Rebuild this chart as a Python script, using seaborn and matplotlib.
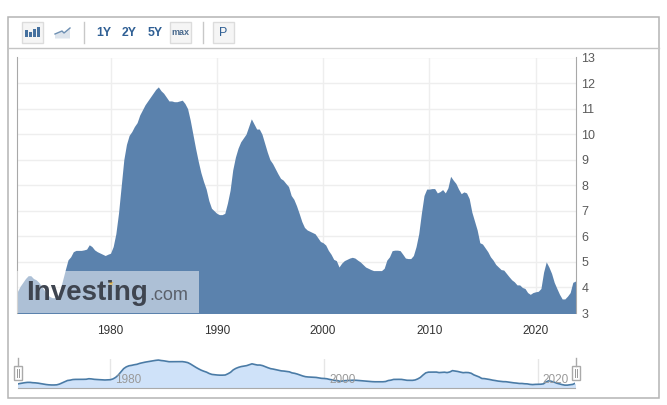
import pandas as pd
import matplotlib.pyplot as plt
import seaborn as sns
from matplotlib.patches import Rectangle, Polygon

plt.rcParams['font.family'] = ['Liberation Sans', 'DejaVu Sans']

# Quarterly values, first quarter of 1971 onwards
rate_values = [
    3.8, 3.85, 4.05, 4.2,
    4.35, 4.46, 4.46, 4.35,
    4.3, 4.2, 4.05, 3.9,
    3.75, 3.65, 3.6, 3.6,
    3.65, 3.9, 4.3, 4.7,
    5.08, 5.2, 5.4, 5.45,
    5.45, 5.45, 5.47, 5.5,
    5.67, 5.6, 5.47, 5.4,
    5.35, 5.3, 5.25, 5.3,
    5.34, 5.6, 6.1, 6.9,
    7.95, 9.0, 9.6, 9.95,
    10.1, 10.3, 10.45, 10.75,
    10.95, 11.15, 11.3, 11.45,
    11.6, 11.75, 11.85, 11.7,
    11.6, 11.45, 11.3, 11.3,
    11.27, 11.27, 11.3, 11.33,
    11.2, 11.0, 10.55, 10.0,
    9.45, 8.95, 8.5, 8.15,
    7.85, 7.4, 7.1, 7.0,
    6.9, 6.85, 6.85, 6.9,
    7.3, 7.8, 8.6, 9.1,
    9.45, 9.7, 9.85, 10.0,
    10.3, 10.6, 10.4, 10.2,
    10.2, 10.0, 9.65, 9.3,
    9.0, 8.85, 8.65, 8.45,
    8.27, 8.2, 8.07, 7.95,
    7.6, 7.45, 7.2, 6.9,
    6.58, 6.35, 6.25, 6.2,
    6.15, 6.1, 5.95, 5.8,
    5.75, 5.66, 5.45, 5.3,
    5.1, 5.05, 4.8, 4.95,
    5.05, 5.1, 5.15, 5.18,
    5.15, 5.07, 5.0, 4.9,
    4.8, 4.75, 4.7, 4.66,
    4.66, 4.66, 4.66, 4.75,
    5.07, 5.2, 5.44, 5.46,
    5.46, 5.44, 5.3, 5.15,
    5.13, 5.13, 5.25, 5.6,
    6.1, 6.9, 7.6, 7.85,
    7.85, 7.87, 7.87, 7.7,
    7.75, 7.83, 7.7, 7.9,
    8.35, 8.2, 8.07, 7.85,
    7.67, 7.74, 7.7, 7.48,
    6.95, 6.6, 6.25, 5.75,
    5.7, 5.55, 5.4, 5.2,
    5.07, 4.9, 4.8, 4.7,
    4.68, 4.55, 4.42, 4.3,
    4.22, 4.1, 4.1, 4.0,
    3.96, 3.8, 3.73, 3.8,
    3.83, 3.85, 3.96, 4.6,
    5.0, 4.8, 4.55, 4.2,
    3.96, 3.73, 3.55, 3.55,
    3.66, 3.8, 4.2, 4.25,
    4.3,
]
year_ticks = [1980, 1990, 2000, 2010, 2020]
rate_ticks = [3, 4, 5, 6, 7, 8, 9, 10, 11, 12, 13]
navigator_ticks = [1980, 2000, 2020]
range_buttons = ['1Y', '2Y', '5Y']

WIDTH, HEIGHT = 667, 405


# Axes rectangle from pixel box
def pixel_axes(left, top, right, bottom, **kwargs):
    return plt.axes([left / WIDTH, 1 - bottom / HEIGHT, (right - left) / WIDTH, (bottom - top) / HEIGHT], **kwargs)


# Prepare the series
def build_frame():
    df = pd.DataFrame({'Rate': rate_values})
    df['Year'] = 1971 + df.index * 0.25
    return df


# Plot main area chart
def plot_main(df):
    pixel_axes(17, 57.5, 576, 313)
    edges = list(df['Year'] - 0.125) + [df['Year'].iloc[-1] + 0.125]  # bin centres fall on the read dates
    sns.histplot(data=df, x='Year', weights='Rate', bins=edges, element='poly', color='#5b82ad', alpha=1, linewidth=0)
    plt.xlim(1971.2, 2023.8)
    plt.ylim(3, 13)
    plt.xticks(year_ticks, [str(y) for y in year_ticks], fontsize=8.5, color='#333333')
    plt.yticks(rate_ticks, [str(r) for r in rate_ticks], fontsize=9, color='#5a5a5a')
    plt.gca().yaxis.tick_right()
    plt.tick_params(length=0)
    plt.tick_params(axis='x', pad=9)
    plt.tick_params(axis='y', pad=4)
    plt.xlabel("")
    plt.ylabel("")
    plt.grid(color='#eeeeee', linewidth=1)
    plt.gca().set_axisbelow(True)
    for side, spine in plt.gca().spines.items():
        spine.set_visible(side in ('left', 'right'))
        spine.set_color('#a8a8a8')


# Plot navigator strip under the chart
def plot_navigator(df):
    pixel_axes(18, 359, 575, 388)
    plt.fill_between(df['Year'], df['Rate'], 2.6, color='#cfe2f9', linewidth=0)
    sns.lineplot(data=df, x='Year', y='Rate', color='#4a7ba6', linewidth=1.2)
    plt.xlim(1971.37, 2023.46)
    plt.ylim(2.6, 12.2)
    plt.xticks(navigator_ticks, [])
    plt.yticks([])
    plt.tick_params(length=0)
    plt.xlabel("")
    plt.ylabel("")
    plt.grid(axis='x', color='#e6e6e6', linewidth=1)
    plt.gca().set_axisbelow(True)
    for year in navigator_ticks:
        plt.text(year + 0.45, 5.2, str(year), fontsize=8.5, color='#999999', ha='left', va='center')
    for side, spine in plt.gca().spines.items():
        spine.set_visible(side == 'bottom')
        spine.set_color('#aaaaaa')


# Button box with soft border
def button_box(x0, x1):
    plt.gca().add_patch(Rectangle((x0, 22), x1 - x0, 21, facecolor='#f5f5f5', edgecolor='#dcdcdc', linewidth=1))


# Toolbar, outer frame, watermark and navigator handles in pixel coordinates
def draw_overlay():
    pixel_axes(0, 0, WIDTH, HEIGHT, facecolor='none')
    plt.xlim(0, WIDTH)
    plt.ylim(HEIGHT, 0)
    plt.axis('off')
    ax = plt.gca()

    ax.add_patch(Rectangle((7.5, 16.5), 651, 381, facecolor='none', edgecolor='#b4b4b4', linewidth=1.1))
    plt.plot([7.5, 658.5], [47.5, 47.5], color='#c4c4c4', linewidth=1)

    button_box(22, 43)
    for x0, top in [(25, 30), (29, 32), (33, 29), (37, 27)]:
        ax.add_patch(Rectangle((x0, top), 3, 36.5 - top, color='#46719f', linewidth=0))
    ax.add_patch(Polygon([(55, 34), (62, 31), (64, 33), (70, 28), (70, 38.5), (55, 38.5)], facecolor='#dde4ec', edgecolor='none'))
    plt.plot([55, 62, 64, 70], [34, 31, 33, 28], color='#6d8fb3', linewidth=1)

    plt.plot([83.5, 83.5], [22, 43], color='#c8c8c8', linewidth=1)
    for label, x in zip(range_buttons, [104, 129.5, 155]):
        plt.text(x, 32.5, label, fontsize=8.8, fontweight='bold', color='#2f5f94', ha='center', va='center')
    button_box(170, 191)
    plt.text(180.5, 32.5, 'max', fontsize=6.5, fontweight='bold', color='#4a6a8e', ha='center', va='center')
    plt.plot([202.5, 202.5], [22, 43], color='#c8c8c8', linewidth=1)
    button_box(213, 234)
    plt.text(223.5, 32.5, 'P', fontsize=9, color='#2f5f94', ha='center', va='center')

    # watermark
    ax.add_patch(Rectangle((17, 271), 182, 42, facecolor='white', alpha=0.5, linewidth=0))
    plt.text(26.5, 293, 'Investing', fontsize=20, fontweight='bold', color='#3f4550', ha='left', va='center')
    plt.text(149, 295, '.com', fontsize=13, color='#5a606a', ha='left', va='center')
    plt.plot([111], [283], marker='*', markersize=5, color='#e8b84a', markeredgewidth=0)

    for x in (17.5, 575.5):
        plt.plot([x, x], [358, 366], color='#aaaaaa', linewidth=1)
        ax.add_patch(Rectangle((x - 4, 366), 8, 14, facecolor='white', edgecolor='#aaaaaa', linewidth=1))
        plt.plot([x - 1, x - 1], [369, 377], color='#999999', linewidth=0.7)
        plt.plot([x + 1, x + 1], [369, 377], color='#999999', linewidth=0.7)


# Main function
def main():
    df = build_frame()
    plt.figure(figsize=(WIDTH / 100, HEIGHT / 100), dpi=100)
    plot_main(df)
    plot_navigator(df)
    draw_overlay()
    plt.savefig("out.png", dpi=100)
    plt.close()


if __name__ == "__main__":
    main()
